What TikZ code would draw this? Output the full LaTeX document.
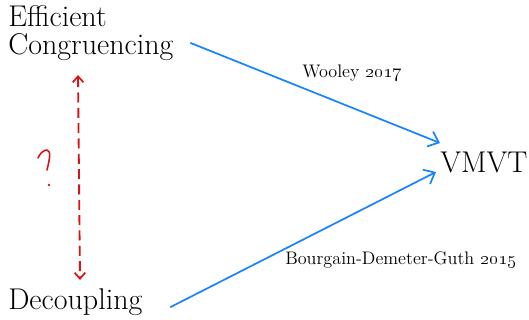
\documentclass[tikz,border=0pt]{standalone}
\usetikzlibrary{arrows.meta,calc}
\definecolor{linkblue}{RGB}{28,132,250}
\definecolor{inkred}{RGB}{214,22,22}
\begin{document}
\begin{tikzpicture}[x=0.75pt,y=-0.75pt,
  title/.style={font=\fontsize{22.5}{21}\selectfont, inner sep=0pt, align=left},
  cite/.style={font=\fontsize{13.6}{15}\selectfont, inner sep=0pt},
  implies/.style={draw=linkblue, line width=1.3pt, line cap=round,
    -{Straight Barb[length=7pt,width=12pt,line width=1.3pt]}},
  unclear/.style={draw=inkred, line width=1.4pt, dash pattern=on 7.5pt off 4pt,
    {Straight Barb[length=4.5pt,width=8pt,line width=1.3pt]}-{Straight Barb[length=4.5pt,width=8pt,line width=1.3pt]}}]
\useasboundingbox (0,0) rectangle (529,320);

% main statements
\node[title, anchor=base west] (ec) at (8,55) {Efficient\\Congruencing};
\node[title, anchor=base west] (dc) at (8,310) {Decoupling};
\node[title, anchor=base west] (vm) at (440,173) {VMVT};

% who proved what
\node[cite, anchor=base west] (wo) at (302,78) {Wooley \oldstylenums{2017}};
\node[cite, anchor=base west] (bdg) at (285,265) {Bourgain-Demeter-Guth \oldstylenums{2015}};

% implications
\draw[implies] ($(ec.base east)+(17,-12)$) -- ($(vm.base west)+(0,-30)$);
\draw[implies] ($(dc.base east)+(28,-3)$) -- ($(vm.base west)+(-4,-1)$);

% open relation between the two methods
\draw[unclear] ($(ec.base west)+(70,20)$) -- ($(dc.base west)+(72,-30)$);
\draw[inkred, line width=1.2pt, line cap=round, line join=round]
  (38,158) .. controls (40,153) and (44,150) .. (47,150)
  .. controls (51,151) and (50,158) .. (47,170);
\fill[inkred] (49,185) circle (1pt);
\end{tikzpicture}
\end{document}
